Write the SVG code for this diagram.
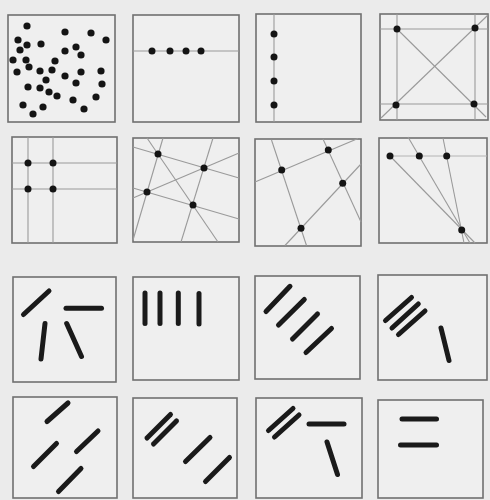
<svg xmlns="http://www.w3.org/2000/svg" width="490" height="500" viewBox="0 0 490 500">
<style>
.bg{fill:#ebebeb}
.box{fill:#efefef;stroke:#707070;stroke-width:1.6}
.ln{stroke:#9a9a9a;stroke-width:1.1;fill:none}
.fl{stroke:#b4b4b4;stroke-width:1;fill:none}
.d{fill:#141414}
.b{stroke:#1a1a1a;stroke-width:5;stroke-linecap:round;fill:none}
</style>
<rect class="bg" x="0" y="0" width="490" height="500"/>
<!-- Row 1 -->
<g id="p1">
<rect class="box" x="8" y="15" width="107" height="107"/>
<g class="d">
<circle cx="27" cy="26" r="3.6"/><circle cx="65" cy="32" r="3.6"/><circle cx="91" cy="33" r="3.6"/><circle cx="106" cy="40" r="3.6"/>
<circle cx="18" cy="40" r="3.6"/><circle cx="27" cy="45" r="3.6"/><circle cx="41" cy="44" r="3.6"/><circle cx="20" cy="50" r="3.6"/>
<circle cx="65" cy="51" r="3.6"/><circle cx="76" cy="47" r="3.6"/><circle cx="81" cy="55" r="3.6"/><circle cx="13" cy="60" r="3.6"/>
<circle cx="26" cy="60" r="3.6"/><circle cx="55" cy="61" r="3.6"/><circle cx="29" cy="67" r="3.6"/><circle cx="17" cy="72" r="3.6"/>
<circle cx="40" cy="71" r="3.6"/><circle cx="52" cy="70" r="3.6"/><circle cx="81" cy="72" r="3.6"/><circle cx="101" cy="71" r="3.6"/>
<circle cx="65" cy="76" r="3.6"/><circle cx="46" cy="80" r="3.6"/><circle cx="76" cy="83" r="3.6"/><circle cx="102" cy="84" r="3.6"/>
<circle cx="28" cy="87" r="3.6"/><circle cx="40" cy="88" r="3.6"/><circle cx="49" cy="92" r="3.6"/><circle cx="57" cy="96" r="3.6"/>
<circle cx="96" cy="97" r="3.6"/><circle cx="73" cy="100" r="3.6"/><circle cx="23" cy="105" r="3.6"/><circle cx="43" cy="107" r="3.6"/>
<circle cx="84" cy="109" r="3.6"/><circle cx="33" cy="114" r="3.6"/>
</g>
</g>
<g id="p2">
<rect class="box" x="133" y="15" width="106" height="107"/>
<line class="ln" x1="133" y1="51" x2="239" y2="51"/>
<g class="d"><circle cx="152" cy="51" r="3.5"/><circle cx="170" cy="51" r="3.5"/><circle cx="186" cy="51" r="3.5"/><circle cx="201" cy="51" r="3.5"/></g>
</g>
<g id="p3">
<rect class="box" x="256" y="14" width="105" height="108"/>
<line class="ln" x1="274" y1="14" x2="274" y2="122"/>
<g class="d"><circle cx="274" cy="34" r="3.5"/><circle cx="274" cy="57" r="3.5"/><circle cx="274" cy="81" r="3.5"/><circle cx="274" cy="105" r="3.5"/></g>
</g>
<g id="p4">
<rect class="box" x="380" y="14" width="108" height="106"/>
<line class="ln" x1="397" y1="14" x2="397" y2="120"/>
<line class="ln" x1="475" y1="14" x2="475" y2="120"/>
<line class="ln" x1="380" y1="29" x2="488" y2="29"/>
<line class="ln" x1="380" y1="104" x2="488" y2="104"/>
<line class="ln" x1="381" y1="118" x2="488" y2="15"/>
<line class="ln" x1="397" y1="29" x2="486" y2="117"/>
<g class="d"><circle cx="397" cy="29" r="3.5"/><circle cx="475" cy="28" r="3.5"/><circle cx="396" cy="105" r="3.5"/><circle cx="474" cy="104" r="3.5"/></g>
</g>
<!-- Row 2 -->
<g id="p5">
<rect class="box" x="12" y="137" width="105" height="106"/>
<line class="ln" x1="28" y1="137" x2="28" y2="243"/>
<line class="ln" x1="53" y1="137" x2="53" y2="243"/>
<line class="ln" x1="12" y1="163" x2="117" y2="163"/>
<line class="ln" x1="12" y1="189" x2="117" y2="189"/>
<g class="d"><circle cx="28" cy="163" r="3.5"/><circle cx="53" cy="163" r="3.5"/><circle cx="28" cy="189" r="3.5"/><circle cx="53" cy="189" r="3.5"/></g>
</g>
<g id="p6">
<rect class="box" x="133" y="138" width="106" height="104"/>
<line class="ln" x1="133" y1="147" x2="239" y2="178"/>
<line class="ln" x1="133" y1="198" x2="239" y2="153"/>
<line class="ln" x1="133" y1="188" x2="239" y2="219"/>
<line class="ln" x1="147" y1="138" x2="218" y2="242"/>
<line class="ln" x1="163" y1="138" x2="133" y2="240"/>
<line class="ln" x1="213" y1="138" x2="181" y2="242"/>
<g class="d"><circle cx="158" cy="154" r="3.5"/><circle cx="204" cy="168" r="3.5"/><circle cx="147" cy="192" r="3.5"/><circle cx="193" cy="205" r="3.5"/></g>
</g>
<g id="p7">
<rect class="box" x="255" y="139" width="106" height="107"/>
<line class="ln" x1="255" y1="182" x2="358" y2="138.5"/>
<line class="ln" x1="271.5" y1="140" x2="306.5" y2="245.5"/>
<line class="ln" x1="323" y1="139" x2="361" y2="222"/>
<line class="ln" x1="361" y1="164" x2="285" y2="245.5"/>
<g class="d"><circle cx="328.3" cy="150" r="3.5"/><circle cx="281.7" cy="170" r="3.5"/><circle cx="342.7" cy="183.3" r="3.5"/><circle cx="301" cy="228.3" r="3.5"/></g>
</g>
<g id="p8">
<rect class="box" x="379" y="138" width="108" height="105"/>
<line class="fl" x1="390" y1="156" x2="487" y2="156"/>
<line class="ln" x1="390" y1="156" x2="475" y2="243"/>
<line class="ln" x1="408" y1="137" x2="470" y2="243"/>
<line class="ln" x1="443" y1="138" x2="464" y2="243"/>
<g class="d"><circle cx="390" cy="156" r="3.5"/><circle cx="419.3" cy="156" r="3.5"/><circle cx="446.7" cy="156" r="3.5"/><circle cx="461.7" cy="230" r="3.5"/></g>
</g>
<!-- Row 3 -->
<g id="p9">
<rect class="box" x="13" y="277" width="103" height="105"/>
<line class="b" x1="23.5" y1="314.5" x2="49" y2="291"/>
<line class="b" x1="66" y1="308.3" x2="101.5" y2="308.3"/>
<line class="b" x1="45" y1="323.5" x2="41" y2="359"/>
<line class="b" x1="66.7" y1="323.5" x2="81.5" y2="356.5"/>
</g>
<g id="p10">
<rect class="box" x="133" y="277" width="106" height="103"/>
<line class="b" x1="145" y1="293" x2="145" y2="323.5"/>
<line class="b" x1="160" y1="293" x2="160" y2="323.5"/>
<line class="b" x1="178.3" y1="293" x2="178.3" y2="323.5"/>
<line class="b" x1="199" y1="293.5" x2="199" y2="324"/>
</g>
<g id="p11">
<rect class="box" x="255" y="276" width="105" height="103"/>
<line class="b" x1="266" y1="311.5" x2="290" y2="286.3"/>
<line class="b" x1="278.5" y1="325" x2="304.3" y2="299.5"/>
<line class="b" x1="292.5" y1="339" x2="317.5" y2="314"/>
<line class="b" x1="306" y1="352.5" x2="331.5" y2="328.5"/>
</g>
<g id="p12">
<rect class="box" x="378" y="275" width="109" height="105"/>
<line class="b" x1="385.5" y1="320.5" x2="411.5" y2="297.5"/>
<line class="b" x1="392" y1="328" x2="418.3" y2="304"/>
<line class="b" x1="398.5" y1="334.5" x2="425" y2="311"/>
<line class="b" x1="441" y1="328" x2="449" y2="360.5"/>
</g>
<!-- Row 4 -->
<g id="p13">
<rect class="box" x="13" y="397" width="104" height="101"/>
<line class="b" x1="47" y1="421.5" x2="68" y2="403"/>
<line class="b" x1="33.5" y1="466.5" x2="56.5" y2="443.5"/>
<line class="b" x1="76.5" y1="451.5" x2="98" y2="431"/>
<line class="b" x1="58.5" y1="491.5" x2="81" y2="468.5"/>
</g>
<g id="p14">
<rect class="box" x="133" y="398" width="104" height="100"/>
<line class="b" x1="147" y1="438" x2="170.5" y2="414.5"/>
<line class="b" x1="153.5" y1="444" x2="176.5" y2="421"/>
<line class="b" x1="185.5" y1="461.5" x2="210" y2="437.5"/>
<line class="b" x1="205.5" y1="481.5" x2="229.5" y2="457.5"/>
</g>
<g id="p15">
<rect class="box" x="256" y="398" width="106" height="100"/>
<line class="b" x1="268.5" y1="430.5" x2="293" y2="408.5"/>
<line class="b" x1="274.5" y1="437" x2="299" y2="415"/>
<line class="b" x1="309" y1="424" x2="344" y2="424"/>
<line class="b" x1="327" y1="442" x2="337.5" y2="474.5"/>
</g>
<g id="p16">
<rect class="box" x="378" y="400" width="105" height="98"/>
<line class="b" x1="402" y1="419" x2="436.5" y2="419"/>
<line class="b" x1="400.5" y1="445" x2="436.5" y2="445"/>
</g>
</svg>
